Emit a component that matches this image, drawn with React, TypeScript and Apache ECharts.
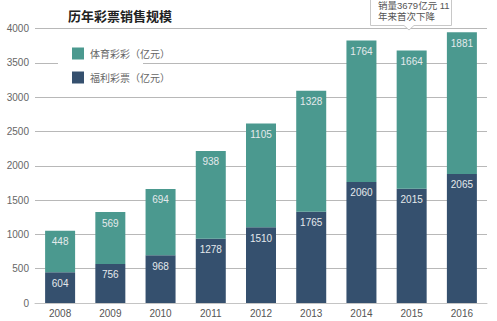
import React, { useEffect, useRef } from "react";
import * as echarts from "echarts";

const years = ["2008", "2009", "2010", "2011", "2012", "2013", "2014", "2015", "2016"];
// values printed on the teal (体育) segments
const sportsSales = [448, 569, 694, 938, 1105, 1328, 1764, 1664, 1881];
// values printed on the navy (福利) segments
const welfareSales = [604, 756, 968, 1278, 1510, 1765, 2060, 2015, 2065];
const yTicks = { min: 0, max: 4000, interval: 500 };

const sportsName = "体育彩彩（亿元）";
const welfareName = "福利彩票（亿元）";
const TEAL = "#4b998f";
const NAVY = "#35506e";

export default function App() {
  const ref = useRef<HTMLDivElement>(null);
  useEffect(() => {
    if (!ref.current) return;
    const chart = echarts.init(ref.current, null, { renderer: "svg" });
    const labelStyle = {
      show: true,
      position: "insideTop",
      distance: 6,
      color: "#e4e9ec",
      fontSize: 10,
      fontFamily: "Liberation Sans",
    };
    const noteFont = "9.5px 'Liberation Sans', 'Noto Sans CJK SC'";
    chart.setOption({
      animation: false,
      backgroundColor: "#fff",
      grid: { left: 35, right: 10, top: 28.5, bottom: 18, containLabel: false },
      legend: {
        orient: "vertical",
        left: 72,
        top: 47.5,
        itemWidth: 12,
        itemHeight: 12,
        itemGap: 12,
        padding: 0,
        data: [sportsName, welfareName],
        icon: "rect",
        textStyle: { color: "#666", fontSize: 10, fontFamily: "Noto Sans CJK SC", padding: [0, 0, 0, 1] },
      },
      xAxis: {
        type: "category",
        data: years,
        axisLine: { lineStyle: { color: "#c4c4c4", width: 1 } },
        axisTick: { show: false },
        axisLabel: { color: "#555", fontSize: 10, margin: 5, fontFamily: "Liberation Sans" },
      },
      yAxis: {
        type: "value",
        min: yTicks.min,
        max: yTicks.max,
        interval: yTicks.interval,
        axisLine: { show: false },
        axisTick: { show: false },
        axisLabel: {
          color: "#666",
          fontSize: 10,
          margin: 6,
          fontFamily: "Liberation Sans",
          formatter: (v: number) => String(v),
        },
        splitLine: { lineStyle: { color: "#b8b8b8", width: 1 } },
      },
      series: [
        {
          name: welfareName,
          type: "bar",
          stack: "total",
          barWidth: 30,
          // reference draws the lower segment with the sports figure's height
          data: sportsSales,
          itemStyle: { color: NAVY },
          label: { ...labelStyle, formatter: (p: any) => String(welfareSales[p.dataIndex]) },
          z: 3,
        },
        {
          name: sportsName,
          type: "bar",
          stack: "total",
          barWidth: 30,
          data: welfareSales,
          itemStyle: { color: TEAL },
          label: { ...labelStyle, formatter: (p: any) => String(sportsSales[p.dataIndex]) },
          z: 3,
        },
      ],
      graphic: [
        {
          type: "rect",
          shape: { x: 58, y: 40, width: 85, height: 50 },
          style: { fill: "#fff" },
          z: 1,
        },
        {
          type: "text",
          x: 68,
          y: 15,
          style: {
            text: "历年彩票销售规模",
            fill: "#222",
            font: "bold 13px 'Noto Sans CJK SC'",
            verticalAlign: "middle",
          },
        },
        {
          type: "polygon",
          shape: {
            points: [
              [370.5, -3],
              [451.5, -3],
              [451.5, 25.5],
              [414, 25.5],
              [409, 30],
              [404, 25.5],
              [370.5, 25.5],
            ],
          },
          style: { fill: "#fff", stroke: "#c8c8c8", lineWidth: 1 },
          z: 10,
        },
        {
          type: "text",
          x: 378,
          y: 5.5,
          z: 11,
          style: { text: "销量3679亿元 11", fill: "#555", font: noteFont, verticalAlign: "middle" },
        },
        {
          type: "text",
          x: 378,
          y: 16.5,
          z: 11,
          style: { text: "年来首次下降", fill: "#555", font: noteFont, verticalAlign: "middle" },
        },
      ],
    });
    return () => chart.dispose();
  }, []);
  return <div ref={ref} style={{ width: 497, height: 321, position: "fixed", left: 0, top: 0 }} />;
}
